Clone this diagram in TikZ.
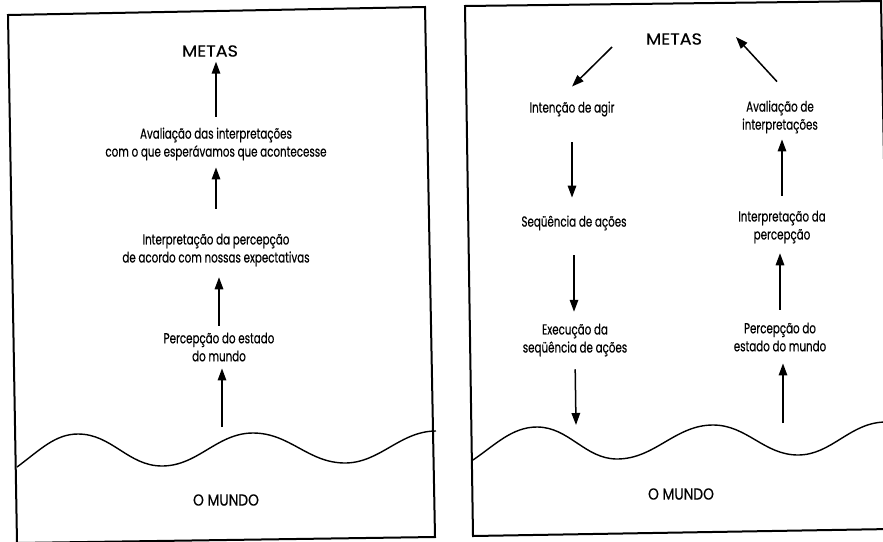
\documentclass[tikz,border=0pt]{standalone}
\usepackage{fontspec}
\setmainfont[FakeStretch=0.71,FakeBold=0.4]{Poppins}
\newfontfamily\capsfont[FakeStretch=1.1,FakeBold=0.4]{Poppins}
\newfontfamily\mundofont[FakeStretch=0.86,FakeBold=0.4]{Poppins}
\usetikzlibrary{arrows.meta,calc}
\begin{document}
\begin{tikzpicture}[x=1pt,y=-1pt,
  lbl/.style={inner sep=0pt, outer sep=0pt, align=center, font=\fontsize{14.5}{18}\selectfont},
  caps/.style={inner sep=0pt, outer sep=0pt, align=center, font=\capsfont\fontsize{16}{18}\selectfont},
  world/.style={inner sep=0pt, outer sep=0pt, align=center, font=\mundofont\fontsize{16}{18}\selectfont},
  arr/.style={line width=1.5pt, -{Triangle[length=12pt,width=8.5pt]}},
  frame/.style={line width=2pt, line join=miter},
  wave/.style={line width=1.4pt}]
\path[fill=white] (0,0) rectangle (883,541);
\useasboundingbox (0,0) rectangle (883,541);
\clip (0,0) rectangle (883,541);
% ---------- left panel ----------
\draw[frame] (8,15) -- (425,7) -- (435,537) -- (17,543) -- cycle;
\node[caps] (metasL) at (210,51) {METAS};
\node[lbl] (avL) at (216,144) {Avaliação das interpretações\\com o que esperávamos que acontecesse};
\node[lbl] (intL) at (216,250) {Interpretação da percepção\\de acordo com nossas expectativas};
\node[lbl] (percL) at (219,347) {Percepção do estado\\do mundo};
\node[world] (mundoL) at (226,500) {O MUNDO};
\coordinate (wL) at (222,427);
\draw[wave] (17,467) .. controls (40,450) and (55,434) .. (78,434)
  .. controls (112,434) and (128,466) .. (162,466)
  .. controls (198,466) and (217,433) .. (253,433)
  .. controls (290,433) and (308,463) .. (345,463)
  .. controls (380,463) and (400,431) .. (436,431);
\draw[arr, shorten <=11pt, shorten >=5pt] (avL.north) -- (avL.north |- metasL.south);
\draw[arr, shorten <=25pt, shorten >=7pt] (intL.north) -- (intL.north |- avL.south);
\draw[arr, shorten <=7pt, shorten >=11pt] (percL.north) -- (percL.north |- intL.south);
\draw[arr, shorten >=7pt] (wL) -- (wL |- percL.south);
% ---------- right panel ----------
\draw[frame] (465,6) -- (881,1) -- (891,529) -- (473,536) -- cycle;
\node[caps] (metasR) at (674,39) {METAS};
\node[lbl] (intR) at (572,109) {Intenção de agir};
\node[lbl] (seqR) at (574,223) {Seqüência de ações};
\node[lbl] (exeR) at (575,340) {Execução da\\seqüência de ações};
\node[lbl] (avR) at (780,117) {Avaliação de\\interpretações};
\node[lbl] (interpR) at (782,227) {Interpretação da\\percepção};
\node[lbl] (percR) at (780,337) {Percepção do\\estado do mundo};
\node[world] (mundoR) at (681,494) {O MUNDO};
\coordinate (wR1) at (576,425);
\coordinate (wR2) at (783,423);
\draw[wave] (473,460) .. controls (495,445) and (512,427) .. (537,427)
  .. controls (569,427) and (585,459) .. (617,459)
  .. controls (655,459) and (675,425) .. (713,425)
  .. controls (747,425) and (764,455) .. (798,455)
  .. controls (832,455) and (850,422) .. (886,422);
\draw[arr] ($(metasR.west)+(-34,8)$) -- ($(intR.north)+(0,-15)$);
\draw[arr] ($(avR.north)+(-3,-19)$) -- ($(metasR.east)+(34,-2)$);
\draw[arr, shorten <=26pt, shorten >=18pt] (intR.south) -- (intR.south |- seqR.north);
\draw[arr, shorten <=25pt, shorten >=12pt] (seqR.south) -- (seqR.south |- exeR.north);
\draw[arr, shorten <=13pt] (exeR.south) -- (wR1);
\draw[arr, shorten >=12pt] (wR2) -- (wR2 |- percR.south);
\draw[arr, shorten <=13pt, shorten >=10pt] (percR.north) -- (percR.north |- interpR.south);
\draw[arr, shorten <=15pt, shorten >=6pt] (interpR.north) -- (interpR.north |- avR.south);
\end{tikzpicture}
\end{document}
